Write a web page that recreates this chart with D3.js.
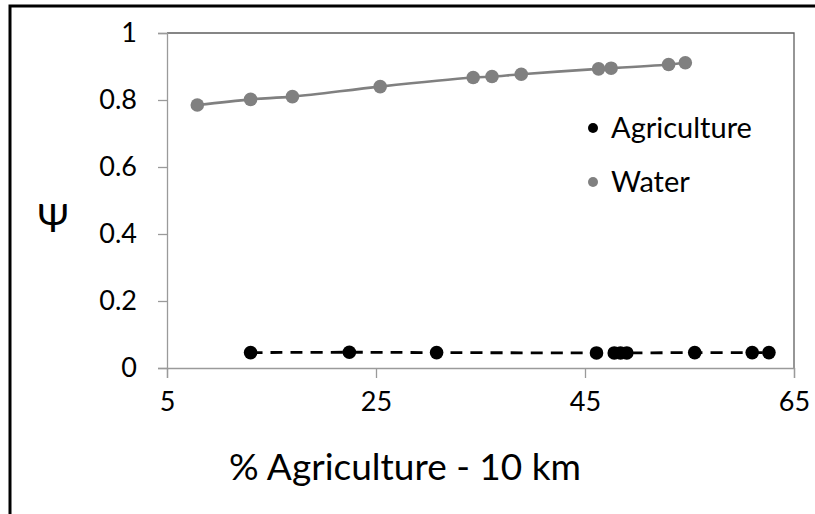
<!DOCTYPE html>
<html>
<head>
<meta charset="utf-8">
<script src="https://cdn.jsdelivr.net/npm/d3@7"></script>
<style>
  body { margin: 0; background: #fff; }
  text { font-family: Lato, "Open Sans", sans-serif; fill: #000; }
</style>
</head>
<body>
<svg width="815" height="514"></svg>
<script>
// % agriculture within 10 km vs psi
var waterX = [7.9, 13.0, 17.0, 25.4, 34.3, 36.1, 38.9, 46.3, 47.5, 53.0, 54.6];
var waterY = [0.785, 0.802, 0.810, 0.840, 0.867, 0.870, 0.877, 0.893, 0.895, 0.906, 0.911];

var agriX = [13.0, 22.45, 30.8, 46.1, 47.8, 48.4, 49.0, 55.5, 61.0, 62.6];
var agriY = [0.046, 0.047, 0.046, 0.045, 0.045, 0.045, 0.045, 0.046, 0.046, 0.046];

var xTicks = [5, 25, 45, 65];
var yTicks = [0, 0.2, 0.4, 0.6, 0.8, 1];

var seriesNames = ["Agriculture", "Water"];
var seriesColors = ["#000000", "#808080"];

var svg = d3.select("svg");

// outer frame (only left and top are inside the picture)
svg.append("rect")
  .attr("x", 10).attr("y", 6)
  .attr("width", 900).attr("height", 600)
  .attr("fill", "none")
  .attr("stroke", "#000")
  .attr("stroke-width", 3);

var plotL = 167, plotR = 794, plotT = 33, plotB = 368;

var x = d3.scaleLinear().domain([5, 65]).range([plotL, plotR]);
var y = d3.scaleLinear().domain([0, 1]).range([plotB, plotT]);

// plot area border (top and right)
svg.append("path")
  .attr("d", "M" + plotL + "," + plotT + "H" + plotR + "V" + plotB)
  .attr("fill", "none")
  .attr("stroke", "#5f5f5f")
  .attr("stroke-width", 1.3);

var xAxis = svg.append("g")
  .attr("transform", "translate(0," + plotB + ")")
  .call(d3.axisBottom(x).tickValues(xTicks).tickSize(10).tickPadding(14).tickFormat(d3.format("d")));

var yAxis = svg.append("g")
  .attr("transform", "translate(" + plotL + ",0)")
  .call(d3.axisLeft(y).tickValues(yTicks).tickSize(9).tickPadding(21).tickFormat(function (d) { return d === 0 || d === 1 ? d : d3.format(".1f")(d); }));

[xAxis, yAxis].forEach(function (a) {
  a.select(".domain").attr("stroke", "#9a9a9a").attr("stroke-width", 1.3);
  a.selectAll(".tick line").attr("stroke", "#9a9a9a").attr("stroke-width", 1.3);
  a.selectAll(".tick text")
    .style("font-family", "Lato, 'Open Sans', sans-serif")
    .style("font-size", "27px")
    .attr("fill", "#000");
});

// water line (smoothed) and points
var waterData = waterX.map(function (d, i) { return [d, waterY[i]]; });
var agriData = agriX.map(function (d, i) { return [d, agriY[i]]; });

var line = d3.line()
  .x(function (d) { return x(d[0]); })
  .y(function (d) { return y(d[1]); })
  .curve(d3.curveCatmullRom);

svg.append("path")
  .datum(waterData)
  .attr("d", line)
  .attr("fill", "none")
  .attr("stroke", seriesColors[1])
  .attr("stroke-width", 2.6);

svg.append("path")
  .datum(agriData)
  .attr("d", line)
  .attr("fill", "none")
  .attr("stroke", seriesColors[0])
  .attr("stroke-width", 2.8)
  .attr("stroke-dasharray", "12,8");

svg.selectAll("circle.water")
  .data(waterData)
  .enter().append("circle")
  .attr("class", "water")
  .attr("cx", function (d) { return x(d[0]); })
  .attr("cy", function (d) { return y(d[1]); })
  .attr("r", 6.8)
  .attr("fill", seriesColors[1]);

svg.selectAll("circle.agri")
  .data(agriData)
  .enter().append("circle")
  .attr("class", "agri")
  .attr("cx", function (d) { return x(d[0]); })
  .attr("cy", function (d) { return y(d[1]); })
  .attr("r", 6.8)
  .attr("fill", seriesColors[0]);

// legend
var legend = svg.append("g");
seriesNames.forEach(function (name, i) {
  var cy = 128 + i * 54;
  legend.append("circle")
    .attr("cx", 593).attr("cy", cy).attr("r", 5)
    .attr("fill", seriesColors[i]);
  legend.append("text")
    .attr("x", 611).attr("y", cy)
    .attr("dy", "0.36em")
    .style("font-size", "29px")
    .text(name);
});

// axis titles
svg.append("text")
  .attr("x", 405).attr("y", 480)
  .attr("text-anchor", "middle")
  .style("font-size", "37px")
  .text("% Agriculture - 10 km");

svg.append("text")
  .attr("x", 53).attr("y", 218)
  .attr("text-anchor", "middle")
  .attr("dy", "0.36em")
  .style("font-size", "38px")
  .text("Ψ");
</script>
</body>
</html>
